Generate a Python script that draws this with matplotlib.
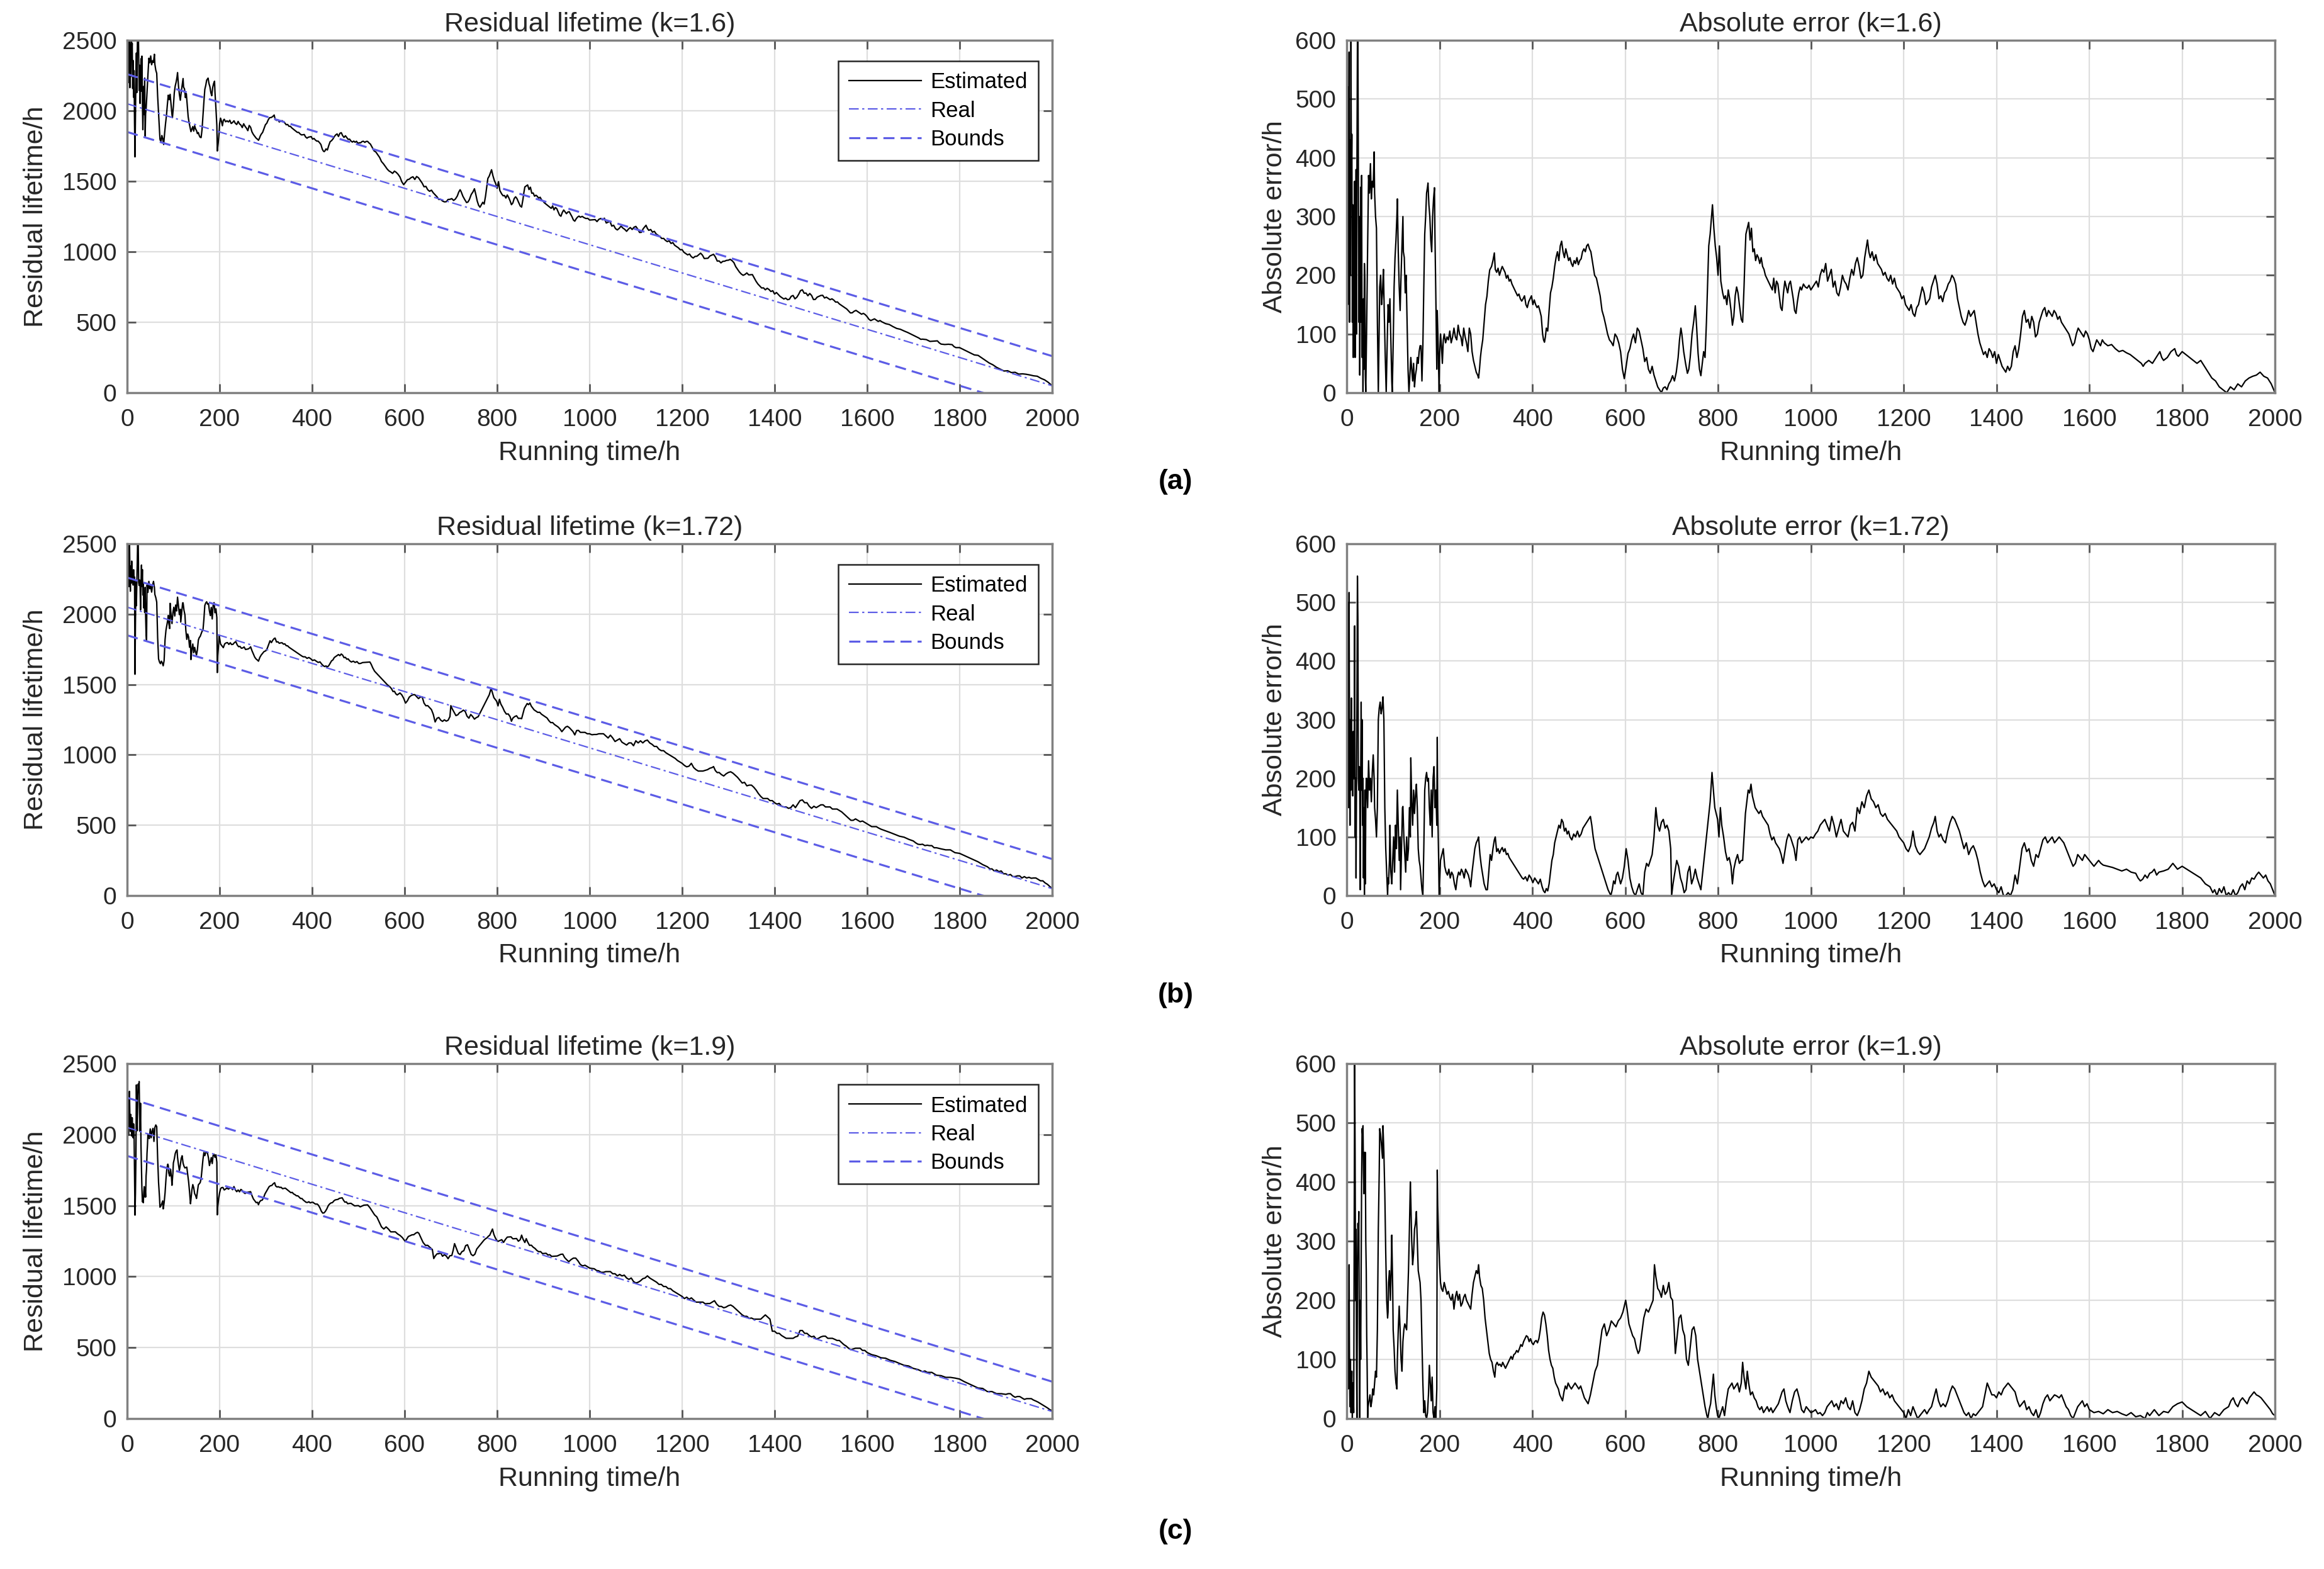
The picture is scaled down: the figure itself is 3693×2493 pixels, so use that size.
import numpy as np
import matplotlib.pyplot as plt

plt.rcParams['font.family'] = ['Liberation Sans', 'DejaVu Sans']

# linhas de referencia: vida residual real e limites (h)
t_line = [0, 2000]
real_line = [2050, 50]
upper_line = [2260, 260]
lower_line = [1850, -150]

k_values = ['1.6', '1.72', '1.9']
panel_tags = ['(a)', '(b)', '(c)']

# desvio (estimado - real) em h: (tempo, desvio)
dev_16 = [
    (0, 300), (1, 600), (2, 150), (3, 520), (4, 250), (5, 580), (6, 120), (7, 430), (8, 200), (9, 600),
    (10, 350), (11, 440), (12, 120), (13, 320), (14, 60), (15, 250), (16, -120), (17, -360), (18, -60),
    (19, 200), (20, 380), (21, 100), (22, 400), (23, 600), (24, 600), (25, 380), (26, 120), (27, 300),
    (28, 30), (29, 200), (30, 350), (31, 120), (32, 370), (33, 60), (34, -150), (35, 0), (36, 160),
    (37, -40), (38, 220), (39, -190), (40, -30), (41, 0), (43, 120), (45, 250), (47, 370), (49, 340),
    (51, 390), (53, 330), (55, 360), (57, 350), (59, 410), (60, 340), (62, 300), (64, 280), (66, 120),
    (68, 0), (69, -60), (71, -180), (73, -200), (75, -150), (77, -170), (79, -210), (81, -130), (83, -60),
    (85, 0), (87, 80), (89, 150), (91, 120), (93, 160), (95, 90), (97, 20), (98, 0), (100, 80), (102, 180),
    (104, 230), (106, 260), (108, 300), (109, 330), (111, 240), (113, 180), (115, 140), (117, 200),
    (119, 250), (121, 300), (122, 240), (124, 230), (126, 170), (128, 200), (130, 120), (132, 40), (134, 0),
    (136, -30), (138, -60), (140, -40), (142, -20), (144, -50), (146, -10), (148, -30), (150, -40),
    (152, -60), (154, -50), (156, -70), (158, -80), (160, -80), (162, -20), (164, 80), (166, 180),
    (168, 270), (170, 300), (172, 340), (174, 350), (175, 357), (177, 320), (179, 300), (181, 260),
    (183, 240), (185, 300), (187, 330), (189, 349), (190, 270), (192, 160), (194, 40), (195, -140),
    (197, -80), (199, 0), (200, 60), (202, 100), (204, 80), (206, 50), (208, 90), (210, 100), (213, 85),
    (216, 95), (219, 90), (222, 105), (225, 85), (228, 95), (231, 110), (234, 95), (237, 90), (240, 115),
    (243, 100), (246, 95), (249, 80), (252, 110), (255, 95), (258, 85), (261, 70), (264, 110), (267, 100),
    (270, 70), (273, 55), (276, 45), (279, 35), (282, 30), (284, 25), (286, 40), (288, 60), (290, 74),
    (293, 90), (296, 120), (299, 150), (302, 164), (305, 190), (308, 209), (312, 215), (315, 225),
    (318, 238), (320, 210), (323, 205), (326, 212), (329, 200), (332, 208), (335, 215), (338, 210),
    (341, 205), (344, 195), (347, 200), (350, 190), (353, 193), (356, 185), (359, 180), (362, 175),
    (365, 170), (368, 165), (371, 168), (374, 160), (377, 156), (380, 160), (383, 165), (386, 150),
    (389, 145), (392, 155), (395, 160), (398, 165), (401, 150), (404, 158), (407, 150), (410, 145),
    (413, 148), (416, 140), (419, 130), (422, 100), (424, 90), (426, 86), (428, 95), (430, 110),
    (433, 105), (436, 140), (439, 170), (442, 180), (445, 195), (448, 215), (451, 230), (454, 240),
    (457, 225), (460, 250), (463, 258), (466, 240), (469, 230), (472, 245), (475, 235), (478, 225),
    (481, 230), (484, 220), (487, 215), (490, 225), (493, 220), (496, 230), (499, 218), (502, 225),
    (505, 228), (508, 240), (511, 245), (514, 240), (517, 250), (520, 253), (523, 245), (526, 240),
    (530, 220), (534, 200), (538, 195), (542, 180), (546, 165), (550, 140), (554, 129), (558, 115),
    (562, 100), (566, 90), (570, 86), (574, 80), (578, 100), (582, 95), (586, 85), (590, 70), (594, 40),
    (598, 24), (602, 45), (606, 67), (610, 75), (614, 90), (618, 100), (622, 85), (626, 110), (630, 105),
    (634, 90), (638, 75), (642, 53), (646, 60), (650, 40), (654, 33), (658, 45), (662, 30), (666, 20),
    (670, 10), (674, -5), (678, 0), (682, -8), (686, -10), (690, -5), (694, 15), (698, 20), (702, 29),
    (706, 20), (710, 35), (714, 60), (717, 90), (720, 110), (722, 100), (726, 70), (730, 50), (734, 33),
    (737, 40), (740, 60), (744, 100), (748, 124), (751, 148), (754, 110), (757, 67), (760, 40), (763, 29),
    (766, 50), (769, 70), (772, 60), (775, 120), (778, 200), (780, 250), (783, 270), (786, 300),
    (788, 320), (791, 280), (794, 250), (797, 230), (800, 200), (803, 250), (806, 190), (810, 170),
    (813, 160), (816, 165), (819, 150), (822, 175), (825, 160), (828, 140), (831, 115), (834, 130),
    (837, 165), (840, 180), (843, 170), (846, 150), (850, 125), (853, 120), (856, 180), (858, 230),
    (860, 270), (863, 280), (866, 290), (869, 260), (872, 280), (875, 240), (878, 245), (881, 225),
    (884, 235), (887, 230), (890, 220), (893, 230), (896, 215), (899, 210), (902, 200), (905, 195),
    (908, 190), (911, 185), (914, 180), (917, 175), (920, 195), (923, 170), (926, 190), (929, 185),
    (932, 165), (935, 145), (938, 140), (941, 170), (944, 190), (947, 180), (950, 170), (953, 185),
    (956, 190), (959, 175), (962, 160), (965, 140), (968, 135), (971, 155), (974, 170), (977, 180),
    (980, 175), (984, 185), (988, 180), (992, 178), (996, 183), (1000, 175), (1004, 180), (1008, 185),
    (1012, 190), (1016, 180), (1020, 200), (1024, 210), (1028, 205), (1032, 220), (1036, 190),
    (1040, 200), (1044, 210), (1048, 180), (1052, 190), (1056, 170), (1060, 165), (1064, 180),
    (1068, 200), (1072, 190), (1076, 185), (1080, 175), (1084, 195), (1088, 210), (1092, 200),
    (1096, 220), (1100, 230), (1104, 215), (1108, 195), (1112, 200), (1116, 230), (1119, 245),
    (1122, 260), (1125, 240), (1128, 230), (1132, 240), (1136, 225), (1140, 235), (1144, 220),
    (1148, 215), (1152, 210), (1156, 200), (1160, 205), (1164, 195), (1168, 190), (1172, 200),
    (1176, 185), (1180, 195), (1184, 180), (1188, 175), (1192, 170), (1196, 160), (1200, 165),
    (1204, 150), (1208, 145), (1212, 140), (1216, 150), (1220, 135), (1224, 130), (1228, 145),
    (1232, 150), (1236, 165), (1240, 180), (1244, 170), (1248, 150), (1252, 155), (1256, 160),
    (1260, 180), (1264, 190), (1268, 200), (1272, 185), (1276, 160), (1280, 165), (1284, 155),
    (1288, 170), (1292, 175), (1296, 185), (1300, 190), (1304, 200), (1308, 195), (1312, 185),
    (1316, 160), (1320, 145), (1324, 130), (1328, 120), (1332, 115), (1336, 125), (1340, 140),
    (1344, 130), (1348, 135), (1352, 140), (1356, 120), (1360, 100), (1364, 85), (1368, 75), (1372, 65),
    (1376, 70), (1380, 60), (1384, 75), (1388, 70), (1392, 60), (1396, 70), (1400, 50), (1404, 65),
    (1408, 55), (1412, 45), (1416, 40), (1420, 35), (1424, 45), (1428, 38), (1432, 45), (1436, 70),
    (1440, 80), (1444, 60), (1448, 75), (1452, 100), (1456, 130), (1460, 140), (1464, 120), (1468, 125),
    (1472, 110), (1476, 130), (1480, 120), (1484, 95), (1488, 100), (1492, 120), (1496, 130), (1500, 140),
    (1504, 145), (1508, 130), (1512, 140), (1516, 135), (1520, 130), (1524, 140), (1528, 135),
    (1532, 125), (1536, 130), (1540, 120), (1544, 115), (1548, 110), (1552, 105), (1556, 100),
    (1560, 90), (1564, 80), (1568, 85), (1572, 100), (1576, 110), (1580, 105), (1584, 100), (1588, 95),
    (1592, 105), (1596, 100), (1600, 90), (1604, 75), (1608, 70), (1612, 80), (1616, 90), (1620, 85),
    (1624, 80), (1628, 90), (1632, 85), (1640, 80), (1648, 82), (1656, 75), (1664, 70), (1672, 72),
    (1680, 68), (1688, 65), (1696, 60), (1704, 55), (1712, 50), (1716, 45), (1720, 50), (1728, 55),
    (1736, 50), (1744, 60), (1752, 70), (1756, 60), (1760, 55), (1768, 60), (1776, 70), (1784, 75),
    (1788, 65), (1792, 62), (1800, 70), (1808, 65), (1816, 60), (1824, 55), (1832, 50), (1840, 55),
    (1848, 45), (1856, 35), (1864, 25), (1872, 20), (1880, 10), (1888, 5), (1896, 0), (1904, 10),
    (1912, 5), (1920, 15), (1928, 10), (1936, 20), (1944, 25), (1952, 28), (1960, 30), (1968, 35),
    (1976, 28), (1984, 25), (1992, 15), (2000, 0),
]

dev_172 = [
    (0, 350), (1, 440), (2, 200), (3, 500), (4, 150), (5, 517), (6, 250), (7, 120), (8, 300), (9, 180),
    (10, 337), (11, 200), (12, 250), (13, 170), (14, 280), (15, 200), (16, 230), (17, -460), (18, -100),
    (19, 200), (20, 30), (21, 180), (22, 350), (23, 545), (24, 470), (25, 200), (26, 180), (27, 220),
    (28, 190), (29, 10), (30, 200), (31, 330), (32, 180), (33, 300), (34, 120), (35, 200), (36, 30),
    (37, 150), (38, 0), (39, 180), (40, -20), (41, -150), (42, -200), (43, 200), (45, 150), (47, 230),
    (49, 180), (51, 200), (53, 160), (55, 210), (57, 240), (59, 200), (60, 150), (62, 130), (64, 100),
    (66, -150), (68, -300), (70, -320), (72, -330), (74, -310), (76, -320), (78, -339), (80, -300),
    (82, -150), (84, -80), (86, -40), (88, 0), (89, 30), (90, -20), (92, -60), (93, 120), (95, 40),
    (97, -20), (99, 60), (101, 100), (103, 40), (105, 120), (107, 80), (109, 180), (111, 120), (113, 60),
    (115, 100), (116, 10), (118, 80), (120, 150), (121, 152), (123, 100), (125, 70), (127, -40),
    (129, -100), (131, -60), (133, -80), (135, -150), (137, -100), (138, -235), (140, -160), (142, -120),
    (144, -180), (146, -140), (148, -170), (150, -190), (152, -150), (154, -80), (156, -60), (158, -50),
    (160, -30), (162, -10), (164, 0), (166, 80), (168, 180), (170, 200), (172, 210), (174, 195),
    (176, 200), (178, 150), (180, 120), (182, 180), (184, 100), (186, 200), (188, 220), (190, 150),
    (192, 180), (194, 120), (195, -270), (196, -150), (198, -60), (199, 0), (200, -20), (202, -60),
    (205, -70), (208, -80), (211, -50), (214, -40), (217, -35), (220, -45), (223, -30), (226, -40),
    (229, -35), (232, -20), (235, -10), (238, -30), (241, -40), (244, -35), (247, -45), (250, -40),
    (253, -30), (256, -45), (259, -40), (262, -35), (265, -25), (267, -15), (270, -40), (273, -60),
    (276, -80), (279, -90), (282, -95), (284, -100), (287, -70), (290, -50), (293, -35), (296, -20),
    (300, -10), (303, 10), (306, 40), (309, 70), (312, 60), (315, 80), (318, 95), (320, 100), (323, 75),
    (326, 80), (329, 72), (332, 78), (335, 82), (338, 75), (341, 80), (344, 70), (347, 72), (350, 65),
    (354, 60), (358, 55), (362, 50), (366, 45), (370, 40), (374, 35), (378, 30), (381, 28), (385, 32),
    (389, 25), (393, 35), (397, 30), (401, 22), (405, 30), (409, 25), (413, 20), (417, 28), (421, 15),
    (424, 8), (427, 5), (430, 12), (433, 8), (436, 20), (439, 40), (442, 60), (445, 70), (448, 90),
    (451, 100), (454, 110), (457, 120), (460, 115), (463, 130), (466, 125), (469, 110), (472, 115),
    (475, 105), (478, 110), (481, 100), (485, 95), (489, 105), (493, 100), (497, 110), (501, 100),
    (505, 105), (509, 115), (513, 120), (517, 125), (521, 130), (525, 135), (528, 120), (531, 100),
    (535, 80), (539, 70), (543, 60), (547, 50), (551, 40), (555, 30), (559, 20), (563, 10), (566, 5),
    (569, 0), (572, -10), (575, -25), (578, -20), (581, -35), (584, -40), (587, -30), (590, -20),
    (594, -30), (598, -50), (602, -80), (606, -60), (610, -30), (614, -15), (618, -5), (622, 0),
    (626, -10), (630, -20), (634, -5), (638, 0), (642, -40), (646, -55), (650, -50), (654, -60),
    (658, -70), (662, -100), (666, -150), (670, -120), (674, -110), (678, -125), (682, -130),
    (686, -115), (690, -120), (694, -110), (698, -80), (700, 0), (703, -20), (707, -40), (711, -60),
    (715, -50), (719, -30), (723, -20), (727, -5), (731, -10), (735, -40), (739, -50), (743, -20),
    (747, -30), (751, -45), (755, -30), (759, -20), (763, 10), (767, 40), (771, 70), (775, 100),
    (779, 130), (783, 160), (787, 210), (790, 180), (793, 150), (796, 140), (799, 130), (802, 100),
    (805, 150), (808, 120), (812, 100), (816, 75), (820, 60), (824, 65), (828, 50), (831, 20), (834, 45),
    (838, 60), (842, 70), (846, 55), (850, 60), (853, 60), (856, 100), (859, 140), (862, 160), (865, 180),
    (868, 175), (871, 190), (874, 170), (877, 160), (880, 150), (884, 145), (888, 140), (892, 145),
    (896, 135), (900, 130), (904, 125), (908, 120), (912, 105), (916, 95), (920, 100), (924, 90),
    (928, 85), (932, 80), (936, 70), (940, 55), (944, 75), (948, 95), (952, 105), (956, 100), (960, 90),
    (964, 80), (968, 60), (972, 95), (976, 100), (980, 90), (985, 95), (990, 100), (995, 95),
    (1000, 100), (1005, 98), (1010, 105), (1015, 110), (1020, 120), (1025, 125), (1030, 130),
    (1035, 120), (1040, 110), (1045, 135), (1050, 120), (1055, 100), (1060, 115), (1065, 130),
    (1070, 110), (1075, 105), (1080, 100), (1085, 120), (1090, 125), (1095, 110), (1100, 150),
    (1105, 140), (1110, 160), (1115, 150), (1120, 170), (1125, 180), (1130, 165), (1135, 160),
    (1140, 150), (1145, 155), (1150, 140), (1155, 135), (1160, 140), (1165, 130), (1170, 125),
    (1175, 120), (1180, 115), (1185, 110), (1190, 100), (1195, 95), (1200, 90), (1205, 80), (1210, 75),
    (1215, 85), (1220, 110), (1225, 85), (1230, 75), (1235, 70), (1240, 75), (1245, 80), (1250, 90),
    (1255, 100), (1260, 115), (1265, 125), (1268, 135), (1272, 110), (1276, 100), (1280, 105),
    (1285, 95), (1290, 90), (1295, 110), (1300, 125), (1305, 135), (1310, 130), (1315, 120), (1320, 110),
    (1325, 95), (1330, 80), (1335, 90), (1340, 70), (1345, 80), (1350, 85), (1355, 75), (1360, 60),
    (1365, 40), (1370, 25), (1375, 15), (1380, 20), (1385, 25), (1390, 15), (1395, 20), (1400, 10),
    (1405, 5), (1410, 15), (1415, 0), (1420, 0), (1425, 5), (1430, 0), (1435, 10), (1440, 35),
    (1445, 20), (1450, 50), (1455, 80), (1460, 90), (1465, 75), (1470, 80), (1475, 60), (1480, 50),
    (1485, 70), (1490, 65), (1495, 80), (1500, 95), (1505, 100), (1510, 90), (1515, 95), (1520, 100),
    (1525, 90), (1530, 95), (1535, 100), (1540, 95), (1545, 90), (1550, 80), (1555, 70), (1560, 60),
    (1565, 50), (1570, 55), (1575, 70), (1580, 65), (1585, 60), (1590, 70), (1595, 65), (1600, 60),
    (1605, 55), (1610, 50), (1615, 55), (1620, 60), (1625, 55), (1630, 52), (1640, 50), (1650, 48),
    (1660, 45), (1670, 42), (1680, 45), (1690, 40), (1700, 38), (1705, 30), (1710, 25), (1715, 28),
    (1720, 35), (1725, 30), (1730, 38), (1735, 40), (1740, 45), (1745, 35), (1750, 40), (1760, 42),
    (1770, 45), (1775, 50), (1780, 55), (1785, 50), (1790, 45), (1800, 50), (1810, 45), (1820, 40),
    (1830, 35), (1840, 30), (1845, 25), (1850, 20), (1860, 15), (1866, 5), (1870, 10), (1875, 0),
    (1880, 12), (1885, 5), (1890, 15), (1895, 0), (1900, 5), (1905, 0), (1910, 10), (1915, 0),
    (1920, 5), (1925, 15), (1930, 20), (1935, 10), (1940, 25), (1945, 20), (1950, 30), (1955, 28),
    (1960, 35), (1965, 40), (1970, 35), (1975, 30), (1980, 35), (1985, 25), (1990, 20), (1995, 10),
    (2000, 0),
]

dev_19 = [
    (0, -100), (1, 150), (2, 200), (3, -50), (4, 120), (5, 260), (6, 80), (7, -20), (8, 100), (9, 10),
    (10, -50), (11, 80), (12, 0), (13, -60), (14, 40), (15, -10), (16, -300), (17, -600), (18, -450),
    (19, -200), (20, 320), (21, 100), (22, 0), (23, 250), (24, 330), (25, 300), (26, 350), (27, 130),
    (28, 0), (29, 200), (30, -100), (31, -250), (32, -400), (33, -490), (34, -480), (35, -495),
    (36, -420), (37, -380), (38, -450), (39, -400), (40, -450), (41, -300), (42, -250), (43, -140),
    (44, -80), (45, 0), (46, -20), (48, -30), (50, 40), (52, -20), (54, 30), (56, 50), (58, -40),
    (60, 60), (62, 80), (64, 70), (66, -150), (68, -320), (70, -420), (71, -490), (73, -480), (75, -460),
    (77, -440), (78, -495), (80, -450), (82, -380), (84, -280), (86, -200), (88, -170), (89, -180),
    (90, -230), (92, -250), (94, -200), (96, -260), (97, -310), (99, -220), (100, -150), (102, -120),
    (104, -80), (106, -60), (108, -50), (109, -100), (111, -150), (113, -190), (115, -150), (117, -100),
    (119, -80), (121, -130), (123, -150), (125, -160), (127, -155), (129, -150), (131, -200), (133, -250),
    (135, -320), (137, -400), (138, -370), (140, -300), (142, -260), (144, -280), (146, -320),
    (148, -330), (150, -350), (152, -300), (154, -250), (156, -240), (158, -230), (160, -200),
    (162, -130), (164, -60), (166, -10), (168, -30), (170, -5), (172, 0), (174, -10), (176, -40),
    (178, -90), (180, -60), (182, -30), (184, -70), (186, -10), (188, 0), (190, -20), (192, 0),
    (194, -50), (195, -420), (196, -360), (198, -300), (200, -260), (202, -230), (204, -220),
    (207, -215), (210, -230), (213, -220), (216, -210), (219, -215), (222, -205), (225, -200),
    (228, -210), (231, -185), (234, -205), (237, -215), (240, -200), (243, -210), (246, -190),
    (249, -195), (252, -205), (255, -210), (258, -200), (261, -195), (264, -190), (267, -185),
    (270, -210), (273, -230), (276, -240), (279, -250), (282, -245), (284, -260), (286, -240),
    (289, -225), (292, -220), (295, -200), (298, -170), (301, -150), (304, -130), (307, -110),
    (310, -100), (313, -95), (316, -80), (319, -70), (321, -90), (324, -95), (327, -90), (330, -92),
    (333, -88), (336, -95), (339, -90), (342, -85), (345, -90), (348, -95), (351, -100), (354, -105),
    (357, -100), (360, -108), (363, -110), (366, -115), (369, -112), (372, -118), (375, -125),
    (378, -122), (381, -130), (384, -135), (387, -140), (390, -138), (393, -130), (396, -135),
    (399, -128), (402, -125), (405, -130), (408, -132), (411, -128), (414, -135), (417, -150),
    (420, -170), (423, -180), (426, -175), (429, -160), (432, -140), (435, -115), (438, -100),
    (441, -90), (444, -85), (447, -70), (450, -60), (453, -55), (456, -50), (459, -40), (462, -35),
    (465, -30), (468, -45), (471, -55), (474, -50), (477, -60), (480, -55), (484, -50), (488, -55),
    (492, -60), (496, -55), (500, -50), (504, -55), (508, -45), (512, -35), (516, -30), (520, -25),
    (525, -40), (530, -60), (535, -80), (540, -90), (545, -120), (550, -150), (555, -160), (560, -140),
    (565, -150), (570, -165), (575, -160), (580, -155), (585, -165), (590, -170), (595, -180),
    (598, -190), (601, -200), (604, -185), (608, -160), (612, -150), (616, -140), (620, -135),
    (624, -120), (628, -110), (631, -115), (635, -140), (640, -170), (645, -185), (650, -180),
    (655, -190), (660, -200), (663, -260), (666, -240), (670, -220), (674, -215), (678, -205),
    (682, -225), (686, -210), (690, -215), (694, -230), (698, -205), (702, -200), (705, -160),
    (708, -110), (712, -140), (716, -170), (720, -175), (724, -150), (728, -140), (732, -100),
    (736, -90), (740, -120), (744, -150), (748, -155), (752, -140), (756, -100), (760, -80), (764, -60),
    (768, -40), (772, -20), (776, -5), (778, 0), (781, 15), (784, 25), (787, 50), (790, 75), (793, 40),
    (796, 20), (799, 5), (802, 0), (806, 10), (810, 20), (814, 5), (818, 30), (822, 50), (826, 55),
    (830, 60), (834, 50), (838, 55), (842, 60), (846, 45), (850, 60), (853, 95), (856, 70), (860, 50),
    (863, 80), (866, 60), (870, 40), (874, 45), (878, 35), (882, 30), (886, 20), (890, 15), (894, 20),
    (898, 10), (902, 15), (906, 20), (910, 12), (914, 18), (918, 10), (922, 15), (926, 20), (930, 25),
    (934, 35), (938, 45), (942, 50), (946, 30), (950, 20), (955, 10), (960, 30), (965, 45), (970, 50),
    (975, 35), (980, 15), (985, 10), (990, 20), (995, 15), (1000, 10), (1005, 12), (1010, 15),
    (1015, 8), (1020, 10), (1025, 5), (1030, 10), (1035, 20), (1040, 25), (1045, 30), (1050, 20),
    (1055, 25), (1060, 15), (1065, 30), (1070, 25), (1075, 35), (1080, 20), (1085, 15), (1090, 30),
    (1095, 10), (1100, 5), (1105, 15), (1110, 30), (1115, 50), (1120, 60), (1125, 80), (1130, 70),
    (1135, 65), (1140, 60), (1145, 55), (1150, 45), (1155, 50), (1160, 40), (1165, 45), (1170, 35),
    (1175, 40), (1180, 30), (1185, 25), (1190, 20), (1195, 15), (1200, 10), (1205, 0), (1210, 15),
    (1215, 5), (1220, 20), (1225, 10), (1230, 0), (1235, 5), (1240, 10), (1245, 15), (1250, 8),
    (1255, 15), (1260, 20), (1265, 35), (1270, 50), (1275, 30), (1280, 20), (1285, 25), (1290, 20),
    (1295, 30), (1300, 45), (1305, 55), (1310, 50), (1315, 40), (1320, 30), (1325, 20), (1330, 10),
    (1335, 5), (1340, 10), (1345, 0), (1350, 8), (1355, 5), (1360, 10), (1365, 15), (1370, 20),
    (1375, 40), (1380, 60), (1385, 50), (1390, 40), (1395, -40), (1400, -35), (1405, -45), (1410, -40),
    (1415, -50), (1420, -55), (1425, -60), (1430, -55), (1435, -50), (1440, -45), (1445, -30),
    (1450, -20), (1455, 25), (1460, 30), (1465, 15), (1470, 20), (1475, 10), (1480, 5), (1485, 15),
    (1490, 0), (1495, 10), (1500, 25), (1505, 35), (1510, 40), (1515, 30), (1520, 35), (1525, 40),
    (1530, 38), (1535, 35), (1540, 40), (1545, 30), (1550, 20), (1555, 15), (1560, 5), (1565, 0),
    (1570, 10), (1575, 20), (1580, 25), (1585, 30), (1590, 20), (1595, 25), (1600, 15), (1610, 10),
    (1620, 12), (1630, 8), (1640, 15), (1650, 10), (1660, 12), (1670, 8), (1680, 5), (1690, 10),
    (1700, 3), (1710, 5), (1720, 0), (1725, 10), (1730, 5), (1740, 15), (1750, 5), (1760, 12),
    (1770, 10), (1780, 20), (1790, 25), (1800, 28), (1810, 20), (1820, 15), (1830, 10), (1840, 5),
    (1850, 12), (1860, 0), (1870, 10), (1880, 5), (1890, 15), (1900, 20), (1905, 30), (1910, 35),
    (1915, 25), (1920, 20), (1925, 30), (1930, 35), (1935, 30), (1940, 25), (1945, 35), (1950, 40),
    (1955, 45), (1960, 40), (1965, 38), (1970, 35), (1975, 30), (1980, 25), (1985, 20), (1990, 15),
    (1995, 8), (2000, 5),
]

devs = [dev_16, dev_172, dev_19]

# posicoes dos eixos (fracao da figura)
bottoms = [0.7497, 0.4292, 0.0959]
heights = [0.2246, 0.2242, 0.2262]
tag_y = [0.693, 0.3658, 0.024]

blue = '#5c5ce6'
txt = '#262626'

fig = plt.figure(figsize=(36.93, 24.93), dpi=100)


def estilo(ax, ylim, yticks):
    ax.set_xlim(0, 2000)
    ax.set_ylim(*ylim)
    ax.set_xticks(range(0, 2001, 200))
    ax.set_yticks(yticks)
    ax.grid(True, color='#dedede', linewidth=1.6)
    ax.set_axisbelow(True)
    ax.tick_params(direction='in', length=10, width=2, color='#555555',
                   labelcolor=txt, labelsize=28, top=True, right=True)
    ax.tick_params(axis='x', pad=18)
    ax.tick_params(axis='y', pad=12)
    for s in ax.spines.values():
        s.set_color('#808080')
        s.set_linewidth(2.5)


for i in range(3):
    t, d = np.array(devs[i], dtype=float).T
    real_t = np.interp(t, t_line, real_line)

    # ---------------- vida residual ----------------
    ax1 = fig.add_axes([0.0547, bottoms[i], 0.398, heights[i]])
    h_est, = ax1.plot(t, real_t + d, color='black', linewidth=1.6)
    h_real, = ax1.plot(t_line, real_line, color=blue, linewidth=1.6,
                       dashes=(7, 2.5, 1.5, 2.5))
    h_bnd, = ax1.plot(t_line, upper_line, color=blue, linewidth=2.3, dashes=(5.5, 3))
    ax1.plot(t_line, lower_line, color=blue, linewidth=2.3, dashes=(5.5, 3))
    estilo(ax1, (0, 2500), range(0, 2501, 500))
    ax1.set_title('Residual lifetime (k=' + k_values[i] + ')', fontsize=31, color=txt, pad=10)
    ax1.set_xlabel('Running time/h', fontsize=31, color=txt)
    ax1.set_ylabel('Residual lifetime/h', fontsize=31, color=txt)
    ax1.xaxis.set_label_coords(0.5, -0.135)
    ax1.yaxis.set_label_coords(-0.085, 0.5)
    leg = ax1.legend([h_est, h_real, h_bnd], ['Estimated', 'Real', 'Bounds'],
                     loc='upper right', bbox_to_anchor=(0.985, 0.941), borderaxespad=0,
                     fontsize=25, handlelength=3.3, labelspacing=0.35, handletextpad=0.4,
                     borderpad=0.5, fancybox=False, edgecolor='#262626', framealpha=1)
    leg.get_frame().set_linewidth(1.8)

    # ---------------- erro absoluto ----------------
    ax2 = fig.add_axes([0.5795, bottoms[i], 0.3994, heights[i]])
    ax2.plot(t, np.abs(d), color='black', linewidth=1.6)
    estilo(ax2, (0, 600), range(0, 601, 100))
    ax2.set_title('Absolute error (k=' + k_values[i] + ')', fontsize=31, color=txt, pad=10)
    ax2.set_xlabel('Running time/h', fontsize=31, color=txt)
    ax2.set_ylabel('Absolute error/h', fontsize=31, color=txt)
    ax2.xaxis.set_label_coords(0.5, -0.135)
    ax2.yaxis.set_label_coords(-0.064, 0.5)

    fig.text(0.5058, tag_y[i], panel_tags[i], fontsize=32, fontweight='bold',
             ha='center', va='center', color='black')

fig.savefig('out.png', dpi=100)
